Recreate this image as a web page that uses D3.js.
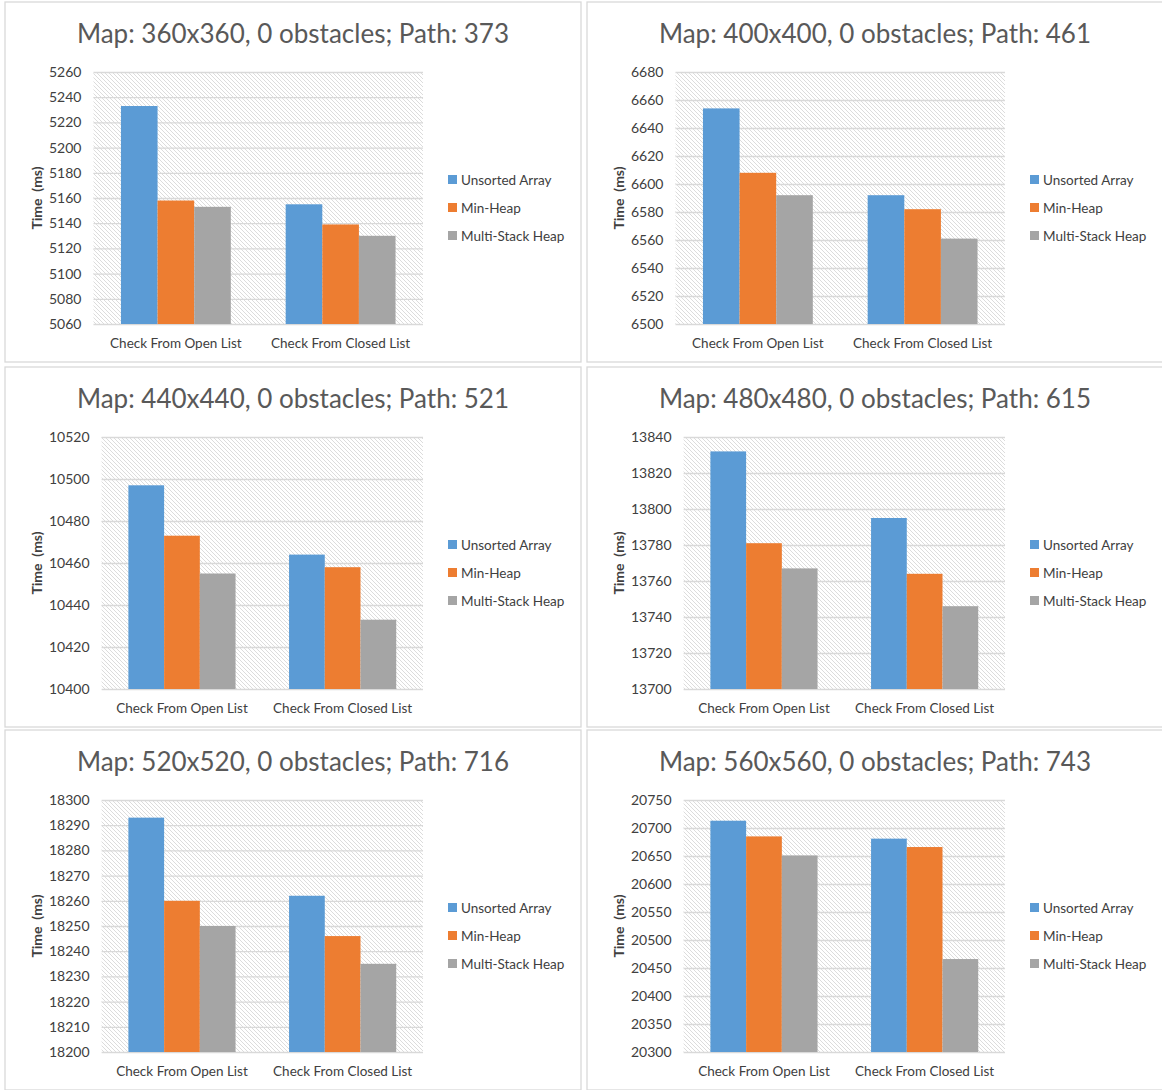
<!DOCTYPE html>
<html>
<head>
<meta charset="utf-8">
<script src="https://cdn.jsdelivr.net/npm/d3@7"></script>
<style>
  body { margin: 0; background: #fff; }
  text { font-family: Lato, "Open Sans", sans-serif; }
</style>
</head>
<body>
<div id="charts"></div>
<script>
const categories = ["Check From Open List", "Check From Closed List"];
const seriesNames = ["Unsorted Array", "Min-Heap", "Multi-Stack Heap"];
const colors = ["#5B9BD5", "#ED7D31", "#A5A5A5"];

const titles = [
  "Map: 360x360, 0 obstacles; Path: 373",
  "Map: 400x400, 0 obstacles; Path: 461",
  "Map: 440x440, 0 obstacles; Path: 521",
  "Map: 480x480, 0 obstacles; Path: 615",
  "Map: 520x520, 0 obstacles; Path: 716",
  "Map: 560x560, 0 obstacles; Path: 743"
];

// one pair per chart: [open list, closed list]
const unsortedArray = [[5233, 5155], [6654, 6592], [10497, 10464], [13832, 13795], [18293, 18262], [20713, 20681]];
const minHeap = [[5158, 5139], [6608, 6582], [10473, 10458], [13781, 13764], [18260, 18246], [20685, 20666]];
const multiStackHeap = [[5153, 5130], [6592, 6561], [10455, 10433], [13767, 13746], [18250, 18235], [20651, 20466]];

const yMin = [5060, 6500, 10400, 13700, 18200, 20300];
const yMax = [5260, 6680, 10520, 13840, 18300, 20750];
const yStep = [20, 20, 20, 20, 10, 50];

const width = 1162;
const height = 1090;
const colX = [5, 587];
const rowY = [2, 367, 730];
const panelW = 576;
const panelH = 360;

const svg = d3.select("#charts")
  .append("svg")
  .attr("width", width)
  .attr("height", height);

svg.append("rect")
  .attr("width", width)
  .attr("height", height)
  .attr("fill", "#fff");

const defs = svg.append("defs");
const pattern = defs.append("pattern")
  .attr("id", "hatch")
  .attr("patternUnits", "userSpaceOnUse")
  .attr("width", 4)
  .attr("height", 4);
pattern.append("rect").attr("width", 4).attr("height", 4).attr("fill", "#fff");
pattern.append("path")
  .attr("d", "M-1,-1 L5,5 M-1,3 L1,5 M3,-1 L5,1")
  .attr("stroke", "#dcdcdc")
  .attr("stroke-width", 1);

function measure(str, size) {
  const t = svg.append("text").style("font-size", size + "px").text(str);
  const w = t.node().getComputedTextLength();
  t.remove();
  return w;
}

titles.forEach((title, i) => {
  const px = colX[i % 2];
  const py = rowY[Math.floor(i / 2)];
  const values = [unsortedArray[i], minHeap[i], multiStackHeap[i]];
  const data = categories.map((c, ci) => ({
    category: c,
    items: seriesNames.map((s, si) => ({ series: s, value: values[si][ci], color: colors[si] }))
  }));

  const ticks = d3.range(yMin[i], yMax[i] + yStep[i] / 2, yStep[i]);
  const labelW = d3.max(ticks, t => measure(String(t), 14));

  const left = px + 44 + labelW + 12;
  const right = px + 418;
  const top = py + 70;
  const bottom = py + 322;

  const g = svg.append("g");

  g.append("rect")
    .attr("x", px)
    .attr("y", py)
    .attr("width", panelW)
    .attr("height", panelH)
    .attr("fill", "#fff")
    .attr("stroke", "#d9d9d9")
    .attr("stroke-width", 1.3);

  g.append("text")
    .attr("x", px + panelW / 2)
    .attr("y", py + 41)
    .attr("text-anchor", "middle")
    .style("font-size", "26px")
    .style("font-weight", 400)
    .style("fill", "#595959")
    .text(title);

  const yScale = d3.scaleLinear()
    .domain([yMin[i], yMax[i]])
    .range([bottom, top]);

  const xScale = d3.scaleBand()
    .domain(categories)
    .range([left, right])
    .paddingInner(0.333)
    .paddingOuter(0.1667);

  const x1 = d3.scaleBand()
    .domain(seriesNames)
    .range([0, xScale.bandwidth()]);

  g.append("rect")
    .attr("x", left)
    .attr("y", top)
    .attr("width", right - left)
    .attr("height", bottom - top)
    .attr("fill", "url(#hatch)");

  const yAxis = d3.axisLeft(yScale)
    .tickValues(ticks)
    .tickSize(-(right - left))
    .tickPadding(12)
    .tickFormat(d3.format("d"));

  const ax = g.append("g")
    .attr("transform", `translate(${left}, 0)`)
    .call(yAxis);
  ax.select(".domain").remove();
  ax.selectAll(".tick line")
    .attr("stroke", "#d9d9d9")
    .attr("stroke-width", 1.3);
  ax.selectAll(".tick text")
    .style("font-size", "14px")
    .style("font-family", "Lato, sans-serif")
    .style("fill", "#404040");

  const groups = g.selectAll(".group")
    .data(data)
    .enter()
    .append("g")
    .attr("class", "group")
    .attr("transform", d => `translate(${xScale(d.category)}, 0)`);

  groups.selectAll("rect")
    .data(d => d.items)
    .enter()
    .append("rect")
    .attr("x", d => x1(d.series))
    .attr("y", d => yScale(d.value))
    .attr("width", x1.bandwidth())
    .attr("height", d => yScale(yMin[i]) - yScale(d.value))
    .attr("fill", d => d.color);

  g.selectAll(".category-label")
    .data(categories)
    .enter()
    .append("text")
    .attr("class", "category-label")
    .attr("x", d => xScale(d) + xScale.bandwidth() / 2)
    .attr("y", bottom + 24)
    .attr("text-anchor", "middle")
    .style("font-size", "13.5px")
    .style("fill", "#404040")
    .text(d => d);

  g.append("text")
    .attr("transform", `translate(${px + 37}, ${(top + bottom) / 2}) rotate(-90)`)
    .attr("text-anchor", "middle")
    .style("font-size", "14px")
    .style("font-weight", "bold")
    .style("fill", "#404040")
    .style("white-space", "pre")
    .text("Time  (ms)");

  const legend = g.selectAll(".legend")
    .data(seriesNames)
    .enter()
    .append("g")
    .attr("class", "legend")
    .attr("transform", (d, k) => `translate(${px + 443}, ${top + 108 + k * 28})`);

  legend.append("rect")
    .attr("x", 0)
    .attr("y", -5)
    .attr("width", 9)
    .attr("height", 9)
    .attr("fill", (d, k) => colors[k]);

  legend.append("text")
    .attr("x", 13)
    .attr("y", 5)
    .style("font-size", "13.5px")
    .style("fill", "#404040")
    .text(d => d);
});
</script>
</body>
</html>
